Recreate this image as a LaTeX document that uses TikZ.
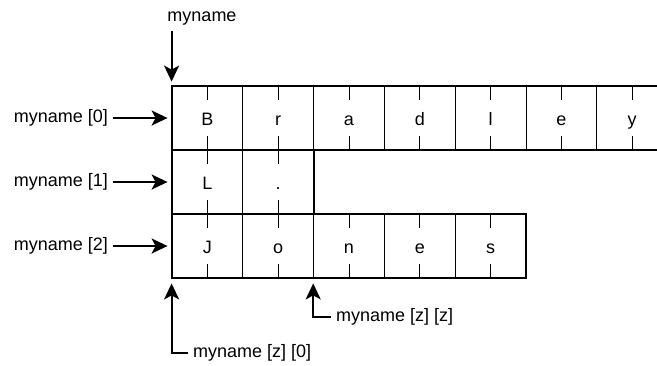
\documentclass[tikz,border=0pt]{standalone}
\usepackage{fontspec}
\setmainfont{Liberation Sans}
\usetikzlibrary{arrows.meta,calc}

\begin{document}
\begin{tikzpicture}[x=1pt,y=-1pt,
        every node/.style={font=\fontsize{18}{21}\selectfont},
        cell/.style={draw,line width=0.8pt,minimum width=70.8pt,minimum height=64pt,inner sep=0pt,text height=14pt,text depth=0pt},
        rowbox/.style={line width=2pt},
        lbl/.style={inner sep=5pt},
        arr/.style={line width=2pt,-{Stealth[length=16pt,width=15pt,inset=4pt]}}]
                \useasboundingbox (0,0) rectangle (657,365);
                \foreach \ch [count=\i from 0] in {B,r,a,d,l,e,y}
                    \node[cell] (a\i) at ({207.4+70.8*\i},118) {\ch};
                \foreach \ch [count=\i from 0] in {L,.}
                    \node[cell] (b\i) at ({207.4+70.8*\i},182) {\ch};
                \foreach \ch [count=\i from 0] in {J,o,n,e,s}
                    \node[cell] (c\i) at ({207.4+70.8*\i},246) {\ch};
                \foreach \i in {0,...,6} {
                    \draw[line width=0.8pt] (a\i.north) -- ++(0,14);
                    \draw[line width=0.8pt] (a\i.south) -- ++(0,-14);
                }
                \foreach \i in {0,1} {
                    \draw[line width=0.8pt] (b\i.north) -- ++(0,14);
                    \draw[line width=0.8pt] (b\i.south) -- ++(0,-14);
                }
                \foreach \i in {0,...,4} {
                    \draw[line width=0.8pt] (c\i.north) -- ++(0,14);
                    \draw[line width=0.8pt] (c\i.south) -- ++(0,-14);
                }
                \draw[rowbox] (a0.north west) rectangle (a6.south east);
                \draw[rowbox] (b0.north west) rectangle (b1.south east);
                \draw[rowbox] (c0.north west) rectangle (c4.south east);
                \node[lbl] (top) at (202,19) {myname};
                \node[lbl,anchor=east] (l0) at (113,118) {myname [0]};
                \node[lbl,anchor=east] (l1) at (113,182) {myname [1]};
                \node[lbl,anchor=east] (l2) at (113,246) {myname [2]};
                \node[lbl,anchor=west] (lz0) at (188,353) {myname [z] [0]};
                \node[lbl,anchor=west] (lzz) at (331,317) {myname [z] [z]};
                \draw[arr] (top.south -| a0.north west) -- ([yshift=4pt]a0.north west);
                \draw[arr] (l0) -- ([xshift=-4pt]a0.west);
                \draw[arr] (l1) -- ([xshift=-4pt]b0.west);
                \draw[arr] (l2) -- ([xshift=-4pt]c0.west);
                \draw[arr] (lz0.west) -| ([yshift=-5pt]c0.south west);
                \draw[arr] (lzz.west) -| ([yshift=-5pt]c2.south west);
            \end{tikzpicture}
\end{document}
